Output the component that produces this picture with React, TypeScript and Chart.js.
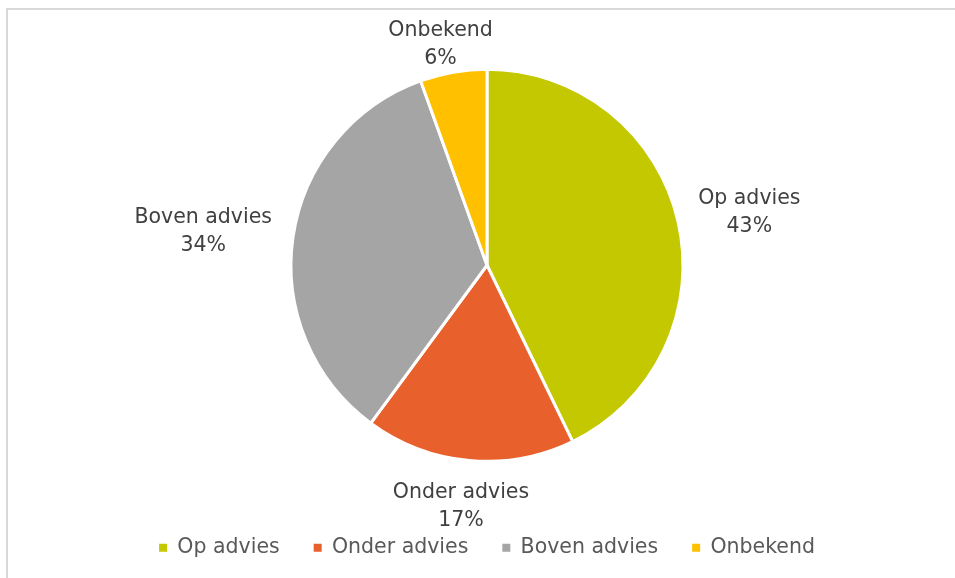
import React, { useEffect, useRef } from "react";
import { Chart, registerables } from "chart.js";

Chart.register(...registerables);

const categories = ["Op advies", "Onder advies", "Boven advies", "Onbekend"];
const shares = [42.8, 17.3, 34.4, 5.5];
const colors = ["#C4C800", "#E8602B", "#A5A5A5", "#FFC000"];

const FONT = "'DejaVu Sans', sans-serif";
const FONT_SIZE = 20.5;

const outsideLabels = {
  id: "outsideLabels",
  afterDatasetsDraw(chart: any) {
    const ctx = chart.ctx;
    const meta = chart.getDatasetMeta(0);
    const data = chart.data.datasets[0].data as number[];
    const total = data.reduce((a, b) => a + b, 0);
    ctx.save();
    ctx.font = `${FONT_SIZE}px ${FONT}`;
    ctx.fillStyle = "#404040";
    ctx.textAlign = "center";
    ctx.textBaseline = "middle";
    const lineH = 28;
    meta.data.forEach((arc: any, i: number) => {
      const { x, y, startAngle, endAngle, outerRadius } = arc.getProps(
        ["x", "y", "startAngle", "endAngle", "outerRadius"],
        true
      );
      const mid = (startAngle + endAngle) / 2;
      const dx = Math.cos(mid);
      const dy = Math.sin(mid);
      const lines = [
        chart.data.labels[i] as string,
        Math.round((data[i] / total) * 100) + "%",
      ];
      const w = Math.max(...lines.map((l) => ctx.measureText(l).width));
      const h = lines.length * lineH;
      const g = 17;
      const padX = 5;
      let cx = x + dx * (outerRadius + g) + dx * (w / 2 + padX);
      let cy = y + dy * (outerRadius + g) + (dy * h) / 2;
      const minTop = 16;
      if (cy - h / 2 < minTop) cy = minTop + h / 2;
      lines.forEach((l, k) => {
        ctx.fillText(l, cx, cy - h / 2 + lineH / 2 + k * lineH + 1);
      });
    });
    ctx.restore();
  },
};

export default function App() {
  const ref = useRef<HTMLCanvasElement>(null);
  useEffect(() => {
    if (!ref.current) return;
    const baseGen = (Chart as any).overrides.pie.plugins.legend.labels.generateLabels;
    const chart = new Chart(ref.current, {
      type: "pie",
      data: {
        labels: categories,
        datasets: [
          {
            data: shares,
            backgroundColor: colors,
            borderColor: "#FFFFFF",
            borderWidth: 3,
            radius: 196,
          } as any,
        ],
      },
      options: {
        animation: false,
        responsive: false,
        maintainAspectRatio: false,
        layout: { padding: { left: 19, right: 0, top: 27, bottom: 10 } },
        plugins: {
          tooltip: { enabled: false },
          legend: {
            position: "bottom",
            labels: {
              boxWidth: 8,
              boxHeight: 8,
              padding: 34,
              color: "#595959",
              font: { family: FONT, size: FONT_SIZE },
              generateLabels: (c: any) =>
                baseGen(c).map((it: any) => ({ ...it, lineWidth: 0, strokeStyle: it.fillStyle })),
            },
          },
        },
      },
      plugins: [outsideLabels],
    });
    return () => chart.destroy();
  }, []);
  return (
    <div
      style={{
        position: "fixed",
        left: 0,
        top: 0,
        width: 955,
        height: 578,
        overflow: "hidden",
        background: "#fff",
      }}
    >
      <canvas ref={ref} width={955} height={578} style={{ position: "absolute", left: 0, top: 0 }} />
      <div
        style={{
          position: "absolute",
          left: 6,
          top: 8,
          width: 1000,
          height: 700,
          borderLeft: "2px solid #D9D9D9",
          borderTop: "2px solid #D9D9D9",
          pointerEvents: "none",
        }}
      />
    </div>
  );
}
